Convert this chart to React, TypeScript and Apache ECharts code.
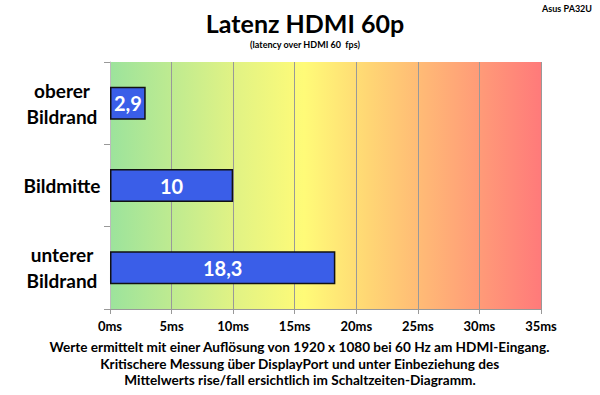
import React, { useEffect, useRef } from "react";
import * as echarts from "echarts";

const categories = ["oberer\nBildrand", "Bildmitte", "unterer\nBildrand"];
const values = [2.9, 10, 18.3];
const xTicks = [0, 5, 10, 15, 20, 25, 30, 35];
const footerLines = [
  "Werte ermittelt mit einer Auflösung von 1920 x 1080 bei 60 Hz am HDMI-Eingang.",
  "Kritischere Messung über DisplayPort und unter Einbeziehung des",
  "Mittelwerts rise/fall ersichtlich im Schaltzeiten-Diagramm.",
];

const FONT = "Lato, 'Open Sans', sans-serif";

export default function App() {
  const ref = useRef<HTMLDivElement>(null);
  useEffect(() => {
    if (!ref.current) return;
    const chart = echarts.init(ref.current, undefined, { renderer: "svg" });
    chart.setOption({
      animation: false,
      backgroundColor: "#ffffff",
      title: {
        text: "Latenz HDMI 60p",
        subtext: "(latency over HDMI 60  fps)",
        left: 300,
        textAlign: "center",
        top: 5,
        itemGap: 5,
        textStyle: { fontFamily: FONT, fontSize: 25, fontWeight: "bold", color: "#000" },
        subtextStyle: { fontFamily: FONT, fontSize: 9, fontWeight: "bold", color: "#000" },
      },
      grid: {
        left: 110,
        right: 59,
        top: 62,
        bottom: 86,
        show: true,
        borderWidth: 0,
        backgroundColor: new echarts.graphic.LinearGradient(0, 0, 1, 0, [
          { offset: 0, color: "#9ce39c" },
          { offset: 0.28, color: "#dff285" },
          { offset: 0.45, color: "#fffb78" },
          { offset: 0.6, color: "#ffd674" },
          { offset: 1, color: "#ff7a7a" },
        ]),
      },
      xAxis: {
        type: "value",
        min: 0,
        max: 35,
        interval: 5,
        axisLine: { show: true, lineStyle: { color: "#999" } },
        axisTick: { show: true, length: 5, lineStyle: { color: "#999" } },
        splitLine: { show: true, lineStyle: { color: "#999", width: 1 } },
        axisLabel: {
          formatter: (v: number) => (xTicks.includes(v) ? v + "ms" : ""),
          fontFamily: FONT,
          fontSize: 13,
          fontWeight: "bold",
          color: "#000",
          margin: 10,
        },
      },
      yAxis: {
        type: "category",
        data: categories,
        inverse: true,
        axisLine: { show: true, lineStyle: { color: "#bbb" } },
        axisTick: { show: true, length: 6, lineStyle: { color: "#999" } },
        axisLabel: {
          fontFamily: FONT,
          fontSize: 19,
          fontWeight: "bold",
          color: "#000",
          align: "center",
          margin: 48,
          lineHeight: 26,
        },
      },
      series: [
        {
          type: "bar",
          data: values,
          barWidth: 33,
          itemStyle: { color: "#3a5ee8", borderColor: "#111", borderWidth: 1.5 },
          label: {
            show: true,
            position: "inside",
            formatter: (p: any) => String(p.value).replace(".", ","),
            fontFamily: FONT,
            fontSize: 20,
            fontWeight: "bold",
            color: "#fff",
          },
        },
      ],
      graphic: [
        {
          type: "text",
          right: 8,
          top: 4,
          style: { text: "Asus PA32U", fontFamily: FONT, fontSize: 9, fontWeight: "bold", fill: "#000" },
        },
        ...footerLines.map((t, i) => ({
          type: "text",
          left: "center",
          top: 340 + i * 16.5,
          style: {
            text: t,
            fontFamily: FONT,
            fontSize: 13.6,
            fontWeight: "bold",
            fill: "#000",
          },
        })),
      ],
    });
    return () => chart.dispose();
  }, []);
  return <div ref={ref} style={{ width: 600, height: 395, position: "absolute", left: 0, top: 0 }} />;
}
